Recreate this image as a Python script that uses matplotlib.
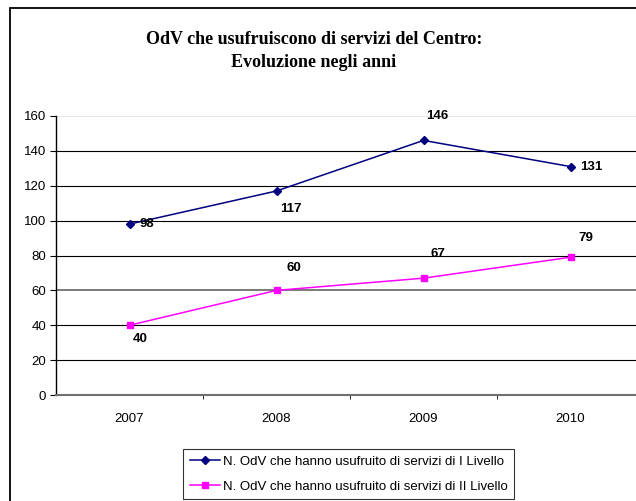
import matplotlib
matplotlib.use("Agg")
import matplotlib.pyplot as plt
from matplotlib.patches import Rectangle

years = ["2007", "2008", "2009", "2010"]
livello_1 = [98, 117, 146, 131]
livello_2 = [40, 60, 67, 79]
label_1 = "N. OdV che hanno usufruito di servizi di I Livello"
label_2 = "N. OdV che hanno usufruito di servizi di II Livello"
title = "OdV che usufruiscono di servizi del Centro:\nEvoluzione negli anni"

# label offsets in pixels (Excel-style placement)
offsets_1 = [(10, 0, "left"), (14, -18, "center"), (14, 24, "center"), (10, 0, "left")]
offsets_2 = [(11, -14, "center"), (17, 22, "center"), (14, 24, "center"), (15, 19, "center")]

plt.rcParams["font.family"] = ["Liberation Sans", "DejaVu Sans"]

fig = plt.figure(figsize=(6.36, 5.01), dpi=100)
fig.patch.set_facecolor("white")

# outer chart border (cropped on the right/bottom)
fig.add_artist(Rectangle((10 / 636, -0.1), 1.2, 0.1 + 1 - 8 / 501,
                         transform=fig.transFigure, fill=False,
                         edgecolor="black", lw=1.3))

ax = fig.add_axes([56 / 636, (501 - 395) / 501, 588 / 636, 279 / 501])
x = list(range(len(years)))

ax.plot(x, livello_1, color="#000080", marker="D", markersize=4.5, lw=1.1,
        label=label_1, zorder=3, clip_on=False)
ax.plot(x, livello_2, color="#FF00FF", marker="s", markersize=5, lw=1.1,
        label=label_2, zorder=3, clip_on=False)

for xi, v, (dx, dy, ha) in zip(x, livello_1, offsets_1):
    ax.annotate(str(v), (xi, v), xytext=(dx, dy), textcoords="offset pixels",
                ha=ha, va="center", fontsize=9.5, fontweight="bold")
for xi, v, (dx, dy, ha) in zip(x, livello_2, offsets_2):
    ax.annotate(str(v), (xi, v), xytext=(dx, dy), textcoords="offset pixels",
                ha=ha, va="center", fontsize=9.5, fontweight="bold")

ax.set_xlim(-0.5, 3.5)
ax.set_ylim(0, 160)
ax.set_yticks(range(0, 161, 20))
ax.set_xticks(x)
ax.set_xticklabels(years)
ax.set_xticks([0.5, 1.5, 2.5], minor=True)
ax.tick_params(axis="x", which="major", length=0, pad=13, labelsize=9.5)
ax.tick_params(axis="x", which="minor", length=3, direction="out", color="black")
ax.tick_params(axis="y", length=4, direction="out", labelsize=9.5, pad=3)

ax.yaxis.grid(True, color="black", lw=0.8)
ax.set_axisbelow(True)
ax.yaxis.get_gridlines()[-1].set_color("#e8e8e8")
for gl in (ax.yaxis.get_gridlines()[3],):
    gl.set_color("#707070")
    gl.set_linewidth(1.3)

for side in ("top", "right"):
    ax.spines[side].set_visible(False)
ax.spines["left"].set_color("black")
ax.spines["left"].set_linewidth(1.0)
ax.spines["bottom"].set_color("#707070")
ax.spines["bottom"].set_linewidth(1.5)

fig.text(314 / 636, 1 - 51 / 501, title, ha="center", va="center",
         fontsize=13, fontweight="bold", family="Liberation Serif",
         linespacing=1.45)

leg = fig.legend(loc="upper left", bbox_to_anchor=(183 / 636, 1 - 449 / 501),
                 fontsize=9.5, frameon=True, fancybox=False, edgecolor="black",
                 borderpad=0.5, handlelength=2.3, handletextpad=0.2,
                 labelspacing=0.95, borderaxespad=0, markerscale=0.85)
leg.get_frame().set_linewidth(0.8)

fig.savefig("out.png", dpi=100)
